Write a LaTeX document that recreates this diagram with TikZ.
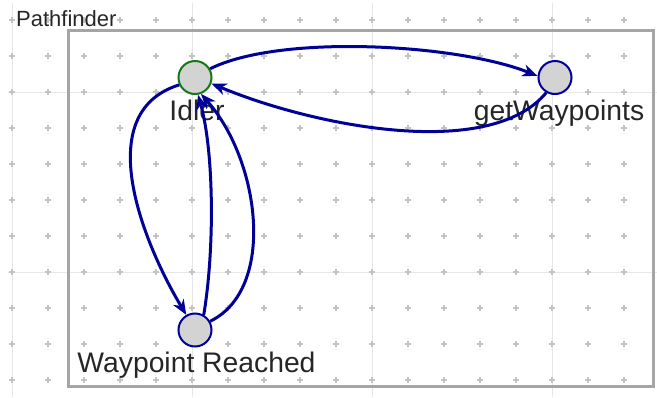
\documentclass[tikz,border=0pt]{standalone}
\usepackage{fontspec}
\setmainfont{Liberation Sans}
\usetikzlibrary{arrows.meta}

\definecolor{navy}{RGB}{0,0,150}
\definecolor{darkgreen}{RGB}{20,120,20}
\definecolor{stategray}{RGB}{211,211,211}
\definecolor{framegray}{RGB}{165,165,165}
\definecolor{gridgray}{RGB}{230,230,230}
\definecolor{dotgray}{RGB}{195,195,195}

\tikzset{
  state/.style={circle, draw=navy, fill=stategray, line width=2pt, minimum size=33pt, inner sep=0pt},
  startstate/.style={state, draw=darkgreen},
  trans/.style={draw=navy, line width=3pt, -{Stealth[length=15pt, width=12pt, inset=4.5pt]}},
  statename/.style={anchor=base, font=\fontsize{28.3}{30}\selectfont, text=black!85},
}

\begin{document}
\begin{tikzpicture}[x=1pt, y=-1pt]
    \useasboundingbox (0,0) rectangle (657,397);

    % background grid
    \foreach \gx in {12,192,372,552}
        \draw[gridgray, line width=1pt] (\gx,3) -- (\gx,397);
    \foreach \gy in {92,272}
        \draw[gridgray, line width=1pt] (8,\gy) -- (657,\gy);
    \foreach \gx in {12,48,...,624}
        \foreach \gy in {20,56,...,380}
            \draw[dotgray, line width=1.1pt] (\gx-3,\gy) -- (\gx+3,\gy) (\gx,\gy-3) -- (\gx,\gy+3);

    % chart frame
    \draw[framegray, line width=3pt] (68,30.5) rectangle (653,386.5);
    \node[anchor=base west, inner sep=0pt, font=\fontsize{22}{24}\selectfont, text=black!85] (title) at (16,26) {Pathfinder};

    \node[statename] (idler-name) at (197,120) {Idler};
    \node[statename] (getwp-name) at (559,120) {getWaypoints};
    \node[statename] (reached-name) at (196.5,372) {Waypoint Reached};

    \node[startstate] (idler) at (195,77.5) {};
    \node[state] (getwp) at (555,77.5) {};
    \node[state] (reached) at (195,330) {};

    \draw[trans] (idler.30) .. controls +(70,-35) and +(-80,-32) .. (getwp.175);
    \draw[trans] (getwp.-120) .. controls +(-57,69) and +(100,42) .. (idler.-20);
    \draw[trans] (idler.205) .. controls +(-90,28) and +(-42,-70) .. (reached.120);
    \draw[trans] (reached.60) .. controls +(11,-66) and +(16,57) .. (idler.-80);
    \draw[trans] (reached.30) .. controls +(66,-32) and +(59.5,67.5) .. (idler.-70);
\end{tikzpicture}
\end{document}
